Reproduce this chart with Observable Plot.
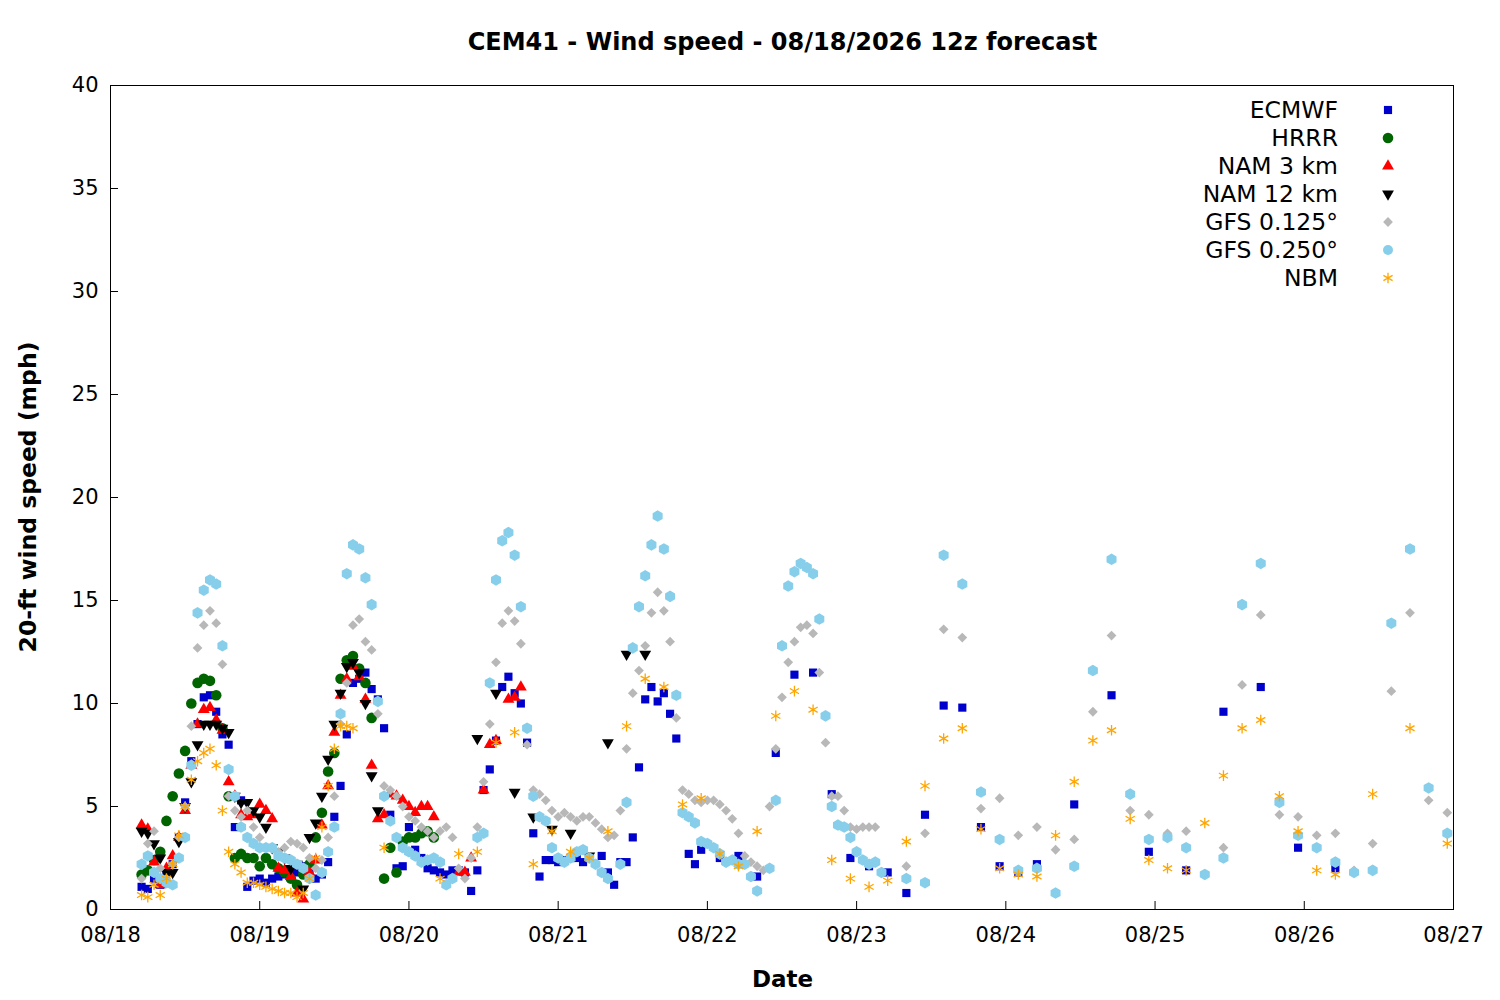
<!DOCTYPE html>
<html><head><meta charset="utf-8">
<script src="https://cdn.jsdelivr.net/npm/d3@7"></script>
<script src="https://cdn.jsdelivr.net/npm/@observablehq/plot@0.6"></script>
<style>
body{margin:0;background:#fff;font-family:"DejaVu Sans",sans-serif;}
#wrap{position:relative;width:1500px;height:1000px;}
#title{position:absolute;top:28px;left:0;width:1565px;text-align:center;font-weight:bold;font-size:24px;}
#ylab{position:absolute;left:28px;top:497px;transform:translate(-50%,-50%) rotate(-90deg);font-weight:bold;font-size:23.5px;white-space:nowrap;}
#xlab{position:absolute;top:966px;left:0;width:1565px;text-align:center;font-weight:bold;font-size:23px;}
#legend{position:absolute;left:1100px;top:96px;}
</style></head><body>
<div id="wrap"><div id="title">CEM41 - Wind speed - 08/18/2026 12z forecast</div>
<div id="chart"></div><div id="ylab">20-ft wind speed (mph)</div><div id="xlab">Date</div><svg id="legend" width="320" height="200"></svg></div>
<script>
// Forecast hour = hours since 08/18 00z. Segments: [startHour, stepHours, values]
const dayLabels = ["08/18","08/19","08/20","08/21","08/22","08/23","08/24","08/25","08/26","08/27"];
const ecmwf = [
 [5,1,[1.1,1.0,1.5,1.2,1.8,2.2,3.5,5.2,7.2,9.0,10.3,10.4,9.6,8.5,8.0,4.0,5.3,1.1,1.4,1.5,1.3,1.5,1.6,1.7,1.7,1.8,2.1,1.9,1.5,1.7,2.3,4.5,6.0,8.5,11.0,11.2,11.5,10.7,10.2,8.8,4.6,2.0,2.1,4.0,2.9,2.5,2.0,1.9,1.8,1.7,1.9,1.9,1.8,0.9,1.9]],
 [60,1,[5.8,6.8,8.2,10.8,11.3,10.5,10.0,8.1,3.7,1.6,2.4,2.4,2.3,2.4,2.5,2.5,2.3,2.5,null,2.6,1.8,1.2,2.3,2.3,3.5,6.9,10.2,10.8,10.1,10.5,9.5,8.3]],
 [93,1,[2.7,2.2,2.9]],
 [98,3,[2.5,2.6,1.6,7.6,11.4,11.5,5.6,2.5,2.1,1.8,0.8,4.6,9.9,9.8,4.0,2.1,1.8,2.2]],
 [155,6,[5.1,10.4,2.8,1.9,9.6,10.8,3.0,2.0]]];
const hrrr = [[5,1,[1.7,1.9,2.4,2.8,4.3,5.5,6.6,7.7,10.0,11.0,11.2,11.1,10.4,8.8,5.5,2.5,2.7,2.5,2.5,2.1,2.5,2.2,2.0,1.8,1.5,1.2,1.7,2.2,3.5,4.7,6.7,7.6,11.2,12.1,12.3,11.7,11.0,9.3,null,1.5,3.0,1.8,3.3,3.5,3.5,3.7,3.8,3.5]]];
const nam3 = [[5,1,[4.1,3.9,2.3,1.2,2.0,2.6,3.5,4.8,7.0,9.0,9.7,9.8,9.2,8.7,6.2,5.5,4.6,4.5,4.6,5.1,4.8,4.4,2.0,1.9,1.6,0.8,0.5,1.8,2.4,4.1,6.0,8.6,10.4,11.2,11.8,11.3,10.2,7.0,4.4,4.6,5.6,5.5,5.3,5.0,4.7,5.0,5.0,4.5]],
 [56,1,[1.8,1.8,2.5]],[60,1,[5.8,8.0,8.2,null,10.2,10.3,10.8]]];
const nam12 = [[5,1,[3.8,3.7,3.2,2.5,1.8,1.8,3.3,5.0,6.2,8.0,9.0,9.0,9.0,8.8,8.6,5.5,5.2,5.2,4.8,4.5,4.0,3.0,2.8,2.5,2.0,2.2,1.0,3.5,4.2,5.5,7.3,9.0,10.5,11.8,12.0,11.5,10.0,6.5,4.8]],
 [59,3,[8.3,10.5,5.7,4.5,3.9,3.7,2.6,8.1,12.4,12.4]]];
const gfs125 = [[5,1,[1.5,3.2,3.8,2.0,1.5,2.2,3.5,5.0,8.9,12.7,13.8,14.5,13.9,11.9,5.5,4.8,4.5,4.8,4.0,3.5,3.0,3.0,2.8,3.0,3.3,3.2,3.0,2.5,2.0,2.4,3.5,5.5,9.0,11.0,13.8,14.1,13.0,12.6,9.5,6.0,5.8,5.5,5.0,4.5,4.3,4.0,3.8,3.5,3.8,4.0,3.5,2.0,1.5,2.5,4.0,6.2,9.0,12.0,13.9,14.5,14.0,12.9,8.0,5.8,5.6,5.3,4.8,4.5,4.7,4.5,4.3,4.5,4.5,4.2,3.9,3.5,3.6,4.8,7.8,10.5,11.6,12.8,14.4,15.4,14.5,13.0,9.3,5.8,5.6,5.3,5.2,5.3,5.3,5.1,4.8,4.4,3.7,2.6,2.3,2.1,1.9,5.0,7.8,10.3,12.0,13.0,13.7,13.8,13.4,11.5,8.1,5.5,5.5,4.8,4.0,3.9,4.0,4.0,4.0]],
 [128,3,[2.1,3.7,13.6,13.2,4.9,5.4,3.6,4.0,2.9,3.4,9.6,13.3,4.8,4.6,3.7,3.8,null,3.0,10.9,14.3,4.6,4.5,3.6,3.7,1.9,3.2,10.6,14.4,5.3,4.7]]];
const gfs250 = [[5,1,[2.2,2.6,1.8,1.5,1.3,1.2,2.5,3.5,7.0,14.4,15.5,16.0,15.8,12.8,6.8,5.5,4.0,3.5,3.2,3.0,3.0,3.0,2.6,2.5,2.4,2.2,2.0,1.5,0.7,1.8,2.8,4.0,9.5,16.3,17.7,17.5,16.1,14.8,10.1,5.5,4.3,3.5,3.0,2.8,2.6,2.3,2.4,2.5,2.3,1.2,1.5]],
 [59,1,[3.5,3.7,11.0,16.0,17.9,18.3,17.2,14.7,8.8,5.5,4.5,4.3,3.0,2.5,2.3,2.5,2.8,2.9,2.5,2.2,1.8,1.5]],
 [82,1,[2.2,5.2,12.7,14.7,16.2,17.7,19.1,17.5,15.2,10.4,4.7,4.5,4.2,3.3,3.2,3.0,2.7,2.3,2.4,2.2,2.2,1.6,0.9]],
 [106,1,[2.0,5.3,12.8,15.7,16.4,16.8,16.6,16.3,14.1,9.4,5.0,4.1,4.0,3.5,2.8,2.4,2.2,2.3,1.8]],
 [128,3,[1.5,1.3,17.2,15.8,5.7,3.4,1.9,2.0,0.8,2.1,11.6,17.0,5.6,3.4,3.5,3.0,1.7,2.5,14.8,16.8,5.2,3.6,3.0,2.3,1.8,1.9,13.9,17.5,5.9,3.7]]];
const nbm = [[5,1,[0.7,0.6,1.2,0.7,1.5,2.2,3.6,5.0,6.3,7.2,7.6,7.8,7.0,4.8,2.8,2.2,1.8,1.3,1.3,1.2,1.1,1.0,0.9,0.8,0.8,0.6,0.8,1.5,2.5,4.0,6.0,7.8,8.9,8.9,8.8]],
 [44,3,[3.0,null,null,1.5,2.7,2.8,8.1,8.6,2.2,3.8,2.8,2.5,3.8,8.9,11.2,10.8,5.1,5.4,2.7,2.1,3.8,9.4,10.6,9.7,2.4,1.5,1.1,1.4,3.3,6.0,8.3,8.8,3.9,2.0,1.7,1.6,3.6,6.2,8.2,8.7,4.4,2.4,2.0,1.9,4.2,6.5,8.8,9.2,5.5,3.8,1.9,1.7,null,5.6,null,8.8,null,3.2]]];

const models = [
 {name:"ECMWF",data:ecmwf,symbol:"square",color:"#0000cc",r:4.6,rot:0},
 {name:"HRRR",data:hrrr,symbol:"circle",color:"#006400",r:5.3,rot:0},
 {name:"NAM 3 km",data:nam3,symbol:"triangle",color:"#ff0000",r:4.4,rot:0},
 {name:"NAM 12 km",data:nam12,symbol:"triangle",color:"#000000",r:4.4,rot:180},
 {name:"GFS 0.125°",data:gfs125,symbol:"square",color:"#b8b8b8",r:3.9,rot:45},
 {name:"GFS 0.250°",data:gfs250,symbol:"hexagon",color:"#87ceeb",r:5,rot:0},
 {name:"NBM",data:nbm,symbol:"asterisk",color:"#ffa500",r:5,rot:0}
];
function rows(m){const out=[];for(const [s,st,v] of m.data)v.forEach((y,i)=>{if(y!=null)out.push({h:s+i*st,y});});return out;}
const marks=[Plot.frame({stroke:"black"})];
for(const m of models){
  const filled = m.symbol!=="asterisk";
  marks.push(Plot.dot(rows(m),{x:"h",y:"y",symbol:()=>m.symbol,r:m.r,rotate:m.rot,
    fill: filled? m.color : "none", stroke: filled? "none": m.color, strokeWidth:1.3}));
}
const chart = Plot.plot({width:1500,height:1000,marginLeft:110,marginRight:47,marginTop:85,marginBottom:91,
  style:{fontFamily:"DejaVu Sans",fontSize:"21px",color:"black"},
  symbol:{type:"identity"},
  x:{domain:[0,216],ticks:d3.range(0,217,24),tickFormat:d=>dayLabels[d/24],label:null,tickSize:-8,tickPadding:26},
  y:{domain:[0,40],ticks:d3.range(0,41,5),label:null,tickSize:-8,tickPadding:20},
  marks});
document.getElementById("chart").appendChild(chart);
// legend
const lg=d3.select("#legend");
const map={square:d3.symbolSquare,circle:d3.symbolCircle,triangle:d3.symbolTriangle,hexagon:d3.symbolCircle,asterisk:d3.symbolAsterisk};
models.forEach((m,i)=>{
  const y=14+i*28;
  lg.append("text").attr("x",238).attr("y",y+8).attr("text-anchor","end").attr("font-size","23.5px").attr("font-family","DejaVu Sans").text(m.name);
  const filled=m.symbol!=="asterisk";
  lg.append("path").attr("d",d3.symbol(map[m.symbol],m.r*m.r*Math.PI)())
   .attr("transform",`translate(288,${y}) rotate(${m.rot})`)
   .attr("fill",filled?m.color:"none").attr("stroke",filled?"none":m.color).attr("stroke-width",1.3);
});
</script></body></html>
